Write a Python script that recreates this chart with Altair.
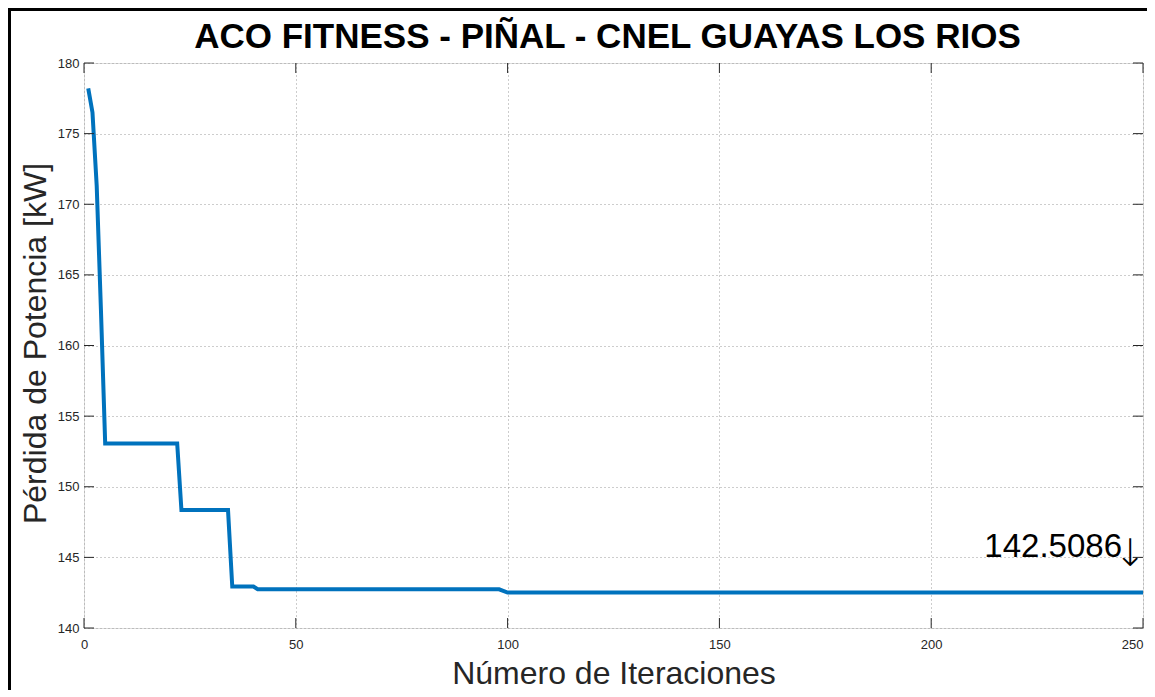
import altair as alt
import pandas as pd

# Data
iterations = [1, 2, 3, 4, 5, 22, 23, 34, 35, 40, 41, 98, 100, 250]
fitness = [178.2, 176.5, 171.3, 162.5, 153.07, 153.07, 148.35, 148.35,
           142.93, 142.93, 142.74, 142.74, 142.5086, 142.5086]
x_ticks = [0, 50, 100, 150, 200, 250]
y_ticks = [140, 145, 150, 155, 160, 165, 170, 175, 180]
final_value = 142.5086
final_label = "142.5086"
arrow_label = "\u2193"

title_text = "ACO FITNESS - PIÑAL - CNEL GUAYAS LOS RIOS"
x_title = "Número de Iteraciones"
y_title = "Pérdida de Potencia [kW]"

W, H = 1059, 565
FONT = "Liberation Sans"
AX = "#262626"
GRID = "#9a9a9a"

df = pd.DataFrame({"iter": iterations, "loss": fitness})
xt = pd.DataFrame({"t": x_ticks})
yt = pd.DataFrame({"t": y_ticks})
ann = pd.DataFrame({"iter": [250], "loss": [final_value],
                    "label": [final_label], "arrow": [arrow_label]})

xscale = alt.Scale(domain=[0, 250], nice=False, zero=False)
yscale = alt.Scale(domain=[140, 180], nice=False, zero=False)

line = alt.Chart(df).mark_line(color="#0072BD", strokeWidth=4).encode(
    x=alt.X("iter:Q", scale=xscale,
            axis=alt.Axis(values=x_ticks, title=x_title, grid=True,
                          gridDash=[1, 3], gridColor=GRID, ticks=False,
                          domain=False, labelFont=FONT, labelFontSize=13,
                          labelColor=AX, labelPadding=10, labelFlush=False,
                          labelAlign=alt.ExprRef("datum.value >= 250 ? 'right' : 'center'"),
                          titleFont=FONT, titleFontSize=32, titleFontWeight="normal",
                          titleColor=AX, titleBaseline="alphabetic", titleY=55)),
    y=alt.Y("loss:Q", scale=yscale,
            axis=alt.Axis(values=y_ticks, title=y_title, grid=True,
                          gridDash=[1, 3], gridColor=GRID, ticks=False,
                          domain=False, labelFont=FONT, labelFontSize=13,
                          labelColor=AX, labelPadding=5, labelFlush=False,
                          titleFont=FONT, titleFontSize=32, titleFontWeight="normal",
                          titleColor=AX, titleBaseline="alphabetic", titleX=-39,
                          titleY=280)),
)

yt_left = alt.Chart(yt).mark_rule(color=AX, strokeWidth=1).encode(
    y=alt.Y("t:Q", scale=yscale), x=alt.value(0), x2=alt.value(10))
yt_right = alt.Chart(yt).mark_rule(color=AX, strokeWidth=1).encode(
    y=alt.Y("t:Q", scale=yscale), x=alt.value(W - 10), x2=alt.value(W))
xt_bottom = alt.Chart(xt).mark_rule(color=AX, strokeWidth=1).encode(
    x=alt.X("t:Q", scale=xscale), y=alt.value(H - 10), y2=alt.value(H))
xt_top = alt.Chart(xt).mark_rule(color=AX, strokeWidth=1).encode(
    x=alt.X("t:Q", scale=xscale), y=alt.value(0), y2=alt.value(10))

text = alt.Chart(ann).mark_text(align="right", baseline="alphabetic", dx=-21, dy=-36,
                                fontSize=33, font=FONT, color="black").encode(
    x=alt.X("iter:Q", scale=xscale), y=alt.Y("loss:Q", scale=yscale), text="label:N")
arrow = alt.Chart(ann).mark_text(align="right", baseline="alphabetic", dx=3, dy=-27,
                                 fontSize=38, font="DejaVu Sans", fontWeight=200,
                                 color="black").encode(
    x=alt.X("iter:Q", scale=xscale), y=alt.Y("loss:Q", scale=yscale), text="arrow:N")

one = alt.Data(values=[{"a": 1}])
border_left = alt.Chart(one).mark_rule(color="black", strokeWidth=3).encode(
    x=alt.value(-74.5), y=alt.value(-55), y2=alt.value(H + 62))
border_top = alt.Chart(one).mark_rule(color="black", strokeWidth=3).encode(
    y=alt.value(-53.5), x=alt.value(-76), x2=alt.value(W + 4))

chart = alt.layer(line, yt_left, yt_right, xt_bottom, xt_top, text, arrow,
                  border_left, border_top).properties(
    width=W, height=H,
    title=alt.TitleParams(text=title_text, font=FONT, fontSize=35, fontWeight="bold",
                          color="black", anchor="middle", offset=-76, dx=-6,
                          baseline="alphabetic"),
    padding={"left": 76, "top": 55, "right": 4, "bottom": 62},
    autosize=alt.AutoSizeParams(type="none"),
).configure_view(stroke=AX, strokeWidth=1).configure(background="white")

chart.save("out.html", embed_options={"renderer": "svg", "actions": False})
